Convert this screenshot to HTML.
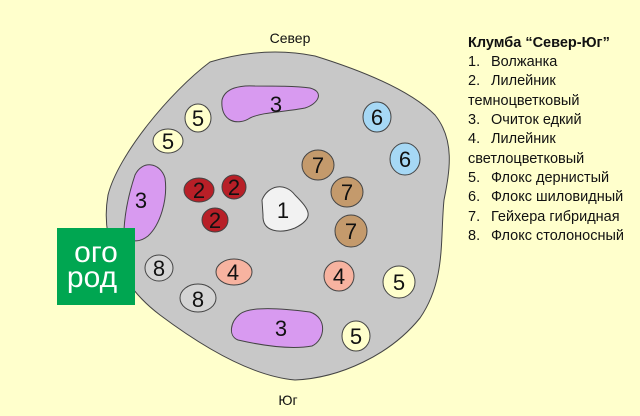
<!DOCTYPE html>
<html><head><meta charset="utf-8"><style>
html,body{margin:0;padding:0;background:#ffffcc;}
svg{display:block;font-family:"Liberation Sans","DejaVu Sans",sans-serif;}
</style></head><body>
<svg width="640" height="416" viewBox="0 0 640 416" xmlns="http://www.w3.org/2000/svg">
<rect width="640" height="416" fill="#ffffcc"/>
<path d="M210,62 C250,50 285,50 315,56 C360,70 410,90 435,115 C455,140 450,170 444,200 C440,240 446,280 420,318 C390,355 340,378 295,380 C250,376 200,345 160,315 C120,285 100,240 108,195 C118,155 170,92 210,62 Z" fill="#c8c8c8" stroke="#444" stroke-width="1"/>
<g stroke="#444" stroke-width="1">
<path d="M222,100 C225,88 240,85 255,86 C275,86 295,86 310,88 C325,92 318,104 305,108 C285,112 262,112 250,118 C238,126 220,122 222,100 Z" fill="#d89af0"/>
<path d="M135,175 C142,160 160,162 165,178 C168,200 160,225 148,236 C138,244 125,242 124,230 C125,210 130,190 135,175 Z" fill="#d89af0"/>
<path d="M240,314 C250,306 280,308 310,312 C328,318 325,340 312,346 C290,350 260,345 238,340 C228,336 230,322 240,314 Z" fill="#d89af0"/>
<ellipse cx="198" cy="118" rx="13" ry="14" fill="#ffffcc"/>
<ellipse cx="168" cy="141" rx="15" ry="12" fill="#ffffcc"/>
<ellipse cx="399" cy="282" rx="16" ry="16" fill="#ffffcc"/>
<ellipse cx="356" cy="336" rx="14" ry="15" fill="#ffffcc"/>
<ellipse cx="377" cy="117" rx="14" ry="15" fill="#a6d8f5"/>
<ellipse cx="405" cy="159" rx="15" ry="16" fill="#a6d8f5"/>
<ellipse cx="318" cy="165" rx="16" ry="15" fill="#c49a6c"/>
<ellipse cx="347" cy="192" rx="16" ry="15" fill="#c49a6c"/>
<ellipse cx="351" cy="231" rx="16" ry="16" fill="#c49a6c"/>
<path d="M262,200 C268,185 285,182 295,195 C310,210 315,218 295,228 C280,234 262,232 263,215 Z" fill="#f2f2f2"/>
<ellipse cx="199" cy="190" rx="15" ry="12" fill="#b81f27"/>
<ellipse cx="234" cy="187" rx="12" ry="12" fill="#b81f27"/>
<ellipse cx="215" cy="220" rx="13" ry="12" fill="#b81f27"/>
<ellipse cx="159" cy="268" rx="14" ry="13" fill="#d4d4d4"/>
<ellipse cx="198" cy="298" rx="18" ry="14" fill="#d4d4d4"/>
<ellipse cx="234" cy="272" rx="18" ry="13" fill="#f7b3a0"/>
<ellipse cx="339" cy="276" rx="15" ry="15" fill="#f7b3a0"/>
</g>
<g font-size="22" text-anchor="middle" fill="#111">
<text x="276" y="112">3</text><text x="141" y="208">3</text><text x="281" y="336">3</text>
<text x="198" y="126">5</text><text x="168" y="149">5</text><text x="399" y="290">5</text><text x="356" y="344">5</text>
<text x="377" y="125">6</text><text x="405" y="167">6</text>
<text x="318" y="173">7</text><text x="347" y="200">7</text><text x="351" y="239">7</text>
<text x="283" y="218">1</text>
<text x="199" y="198">2</text><text x="234" y="195">2</text><text x="215" y="228">2</text>
<text x="159" y="276">8</text><text x="198" y="307">8</text>
<text x="233" y="280">4</text><text x="339" y="284">4</text>
</g>
<rect x="57" y="228" width="78" height="77" fill="#00a651"/>
<text x="96" y="262" font-size="30" fill="#fff" text-anchor="middle">ого</text>
<text x="92" y="287" font-size="30" fill="#fff" text-anchor="middle">род</text>
<text x="290" y="43" font-size="14" text-anchor="middle" fill="#111">Север</text>
<text x="288" y="405" font-size="14" text-anchor="middle" fill="#111">Юг</text>
<g font-size="14.5" fill="#111">
<text x="468" y="47" font-weight="bold">Клумба “Север-Юг”</text>
<text x="468" y="66">1.</text><text x="491" y="66">Волжанка</text>
<text x="468" y="85">2.</text><text x="491" y="85">Лилейник</text>
<text x="468" y="105">темноцветковый</text>
<text x="468" y="124">3.</text><text x="491" y="124">Очиток едкий</text>
<text x="468" y="143">4.</text><text x="491" y="143">Лилейник</text>
<text x="468" y="163">светлоцветковый</text>
<text x="468" y="182">5.</text><text x="491" y="182">Флокс дернистый</text>
<text x="468" y="201">6.</text><text x="491" y="201">Флокс шиловидный</text>
<text x="468" y="221">7.</text><text x="491" y="221">Гейхера гибридная</text>
<text x="468" y="240">8.</text><text x="491" y="240">Флокс столоносный</text>
</g>
</svg>
</body></html>
